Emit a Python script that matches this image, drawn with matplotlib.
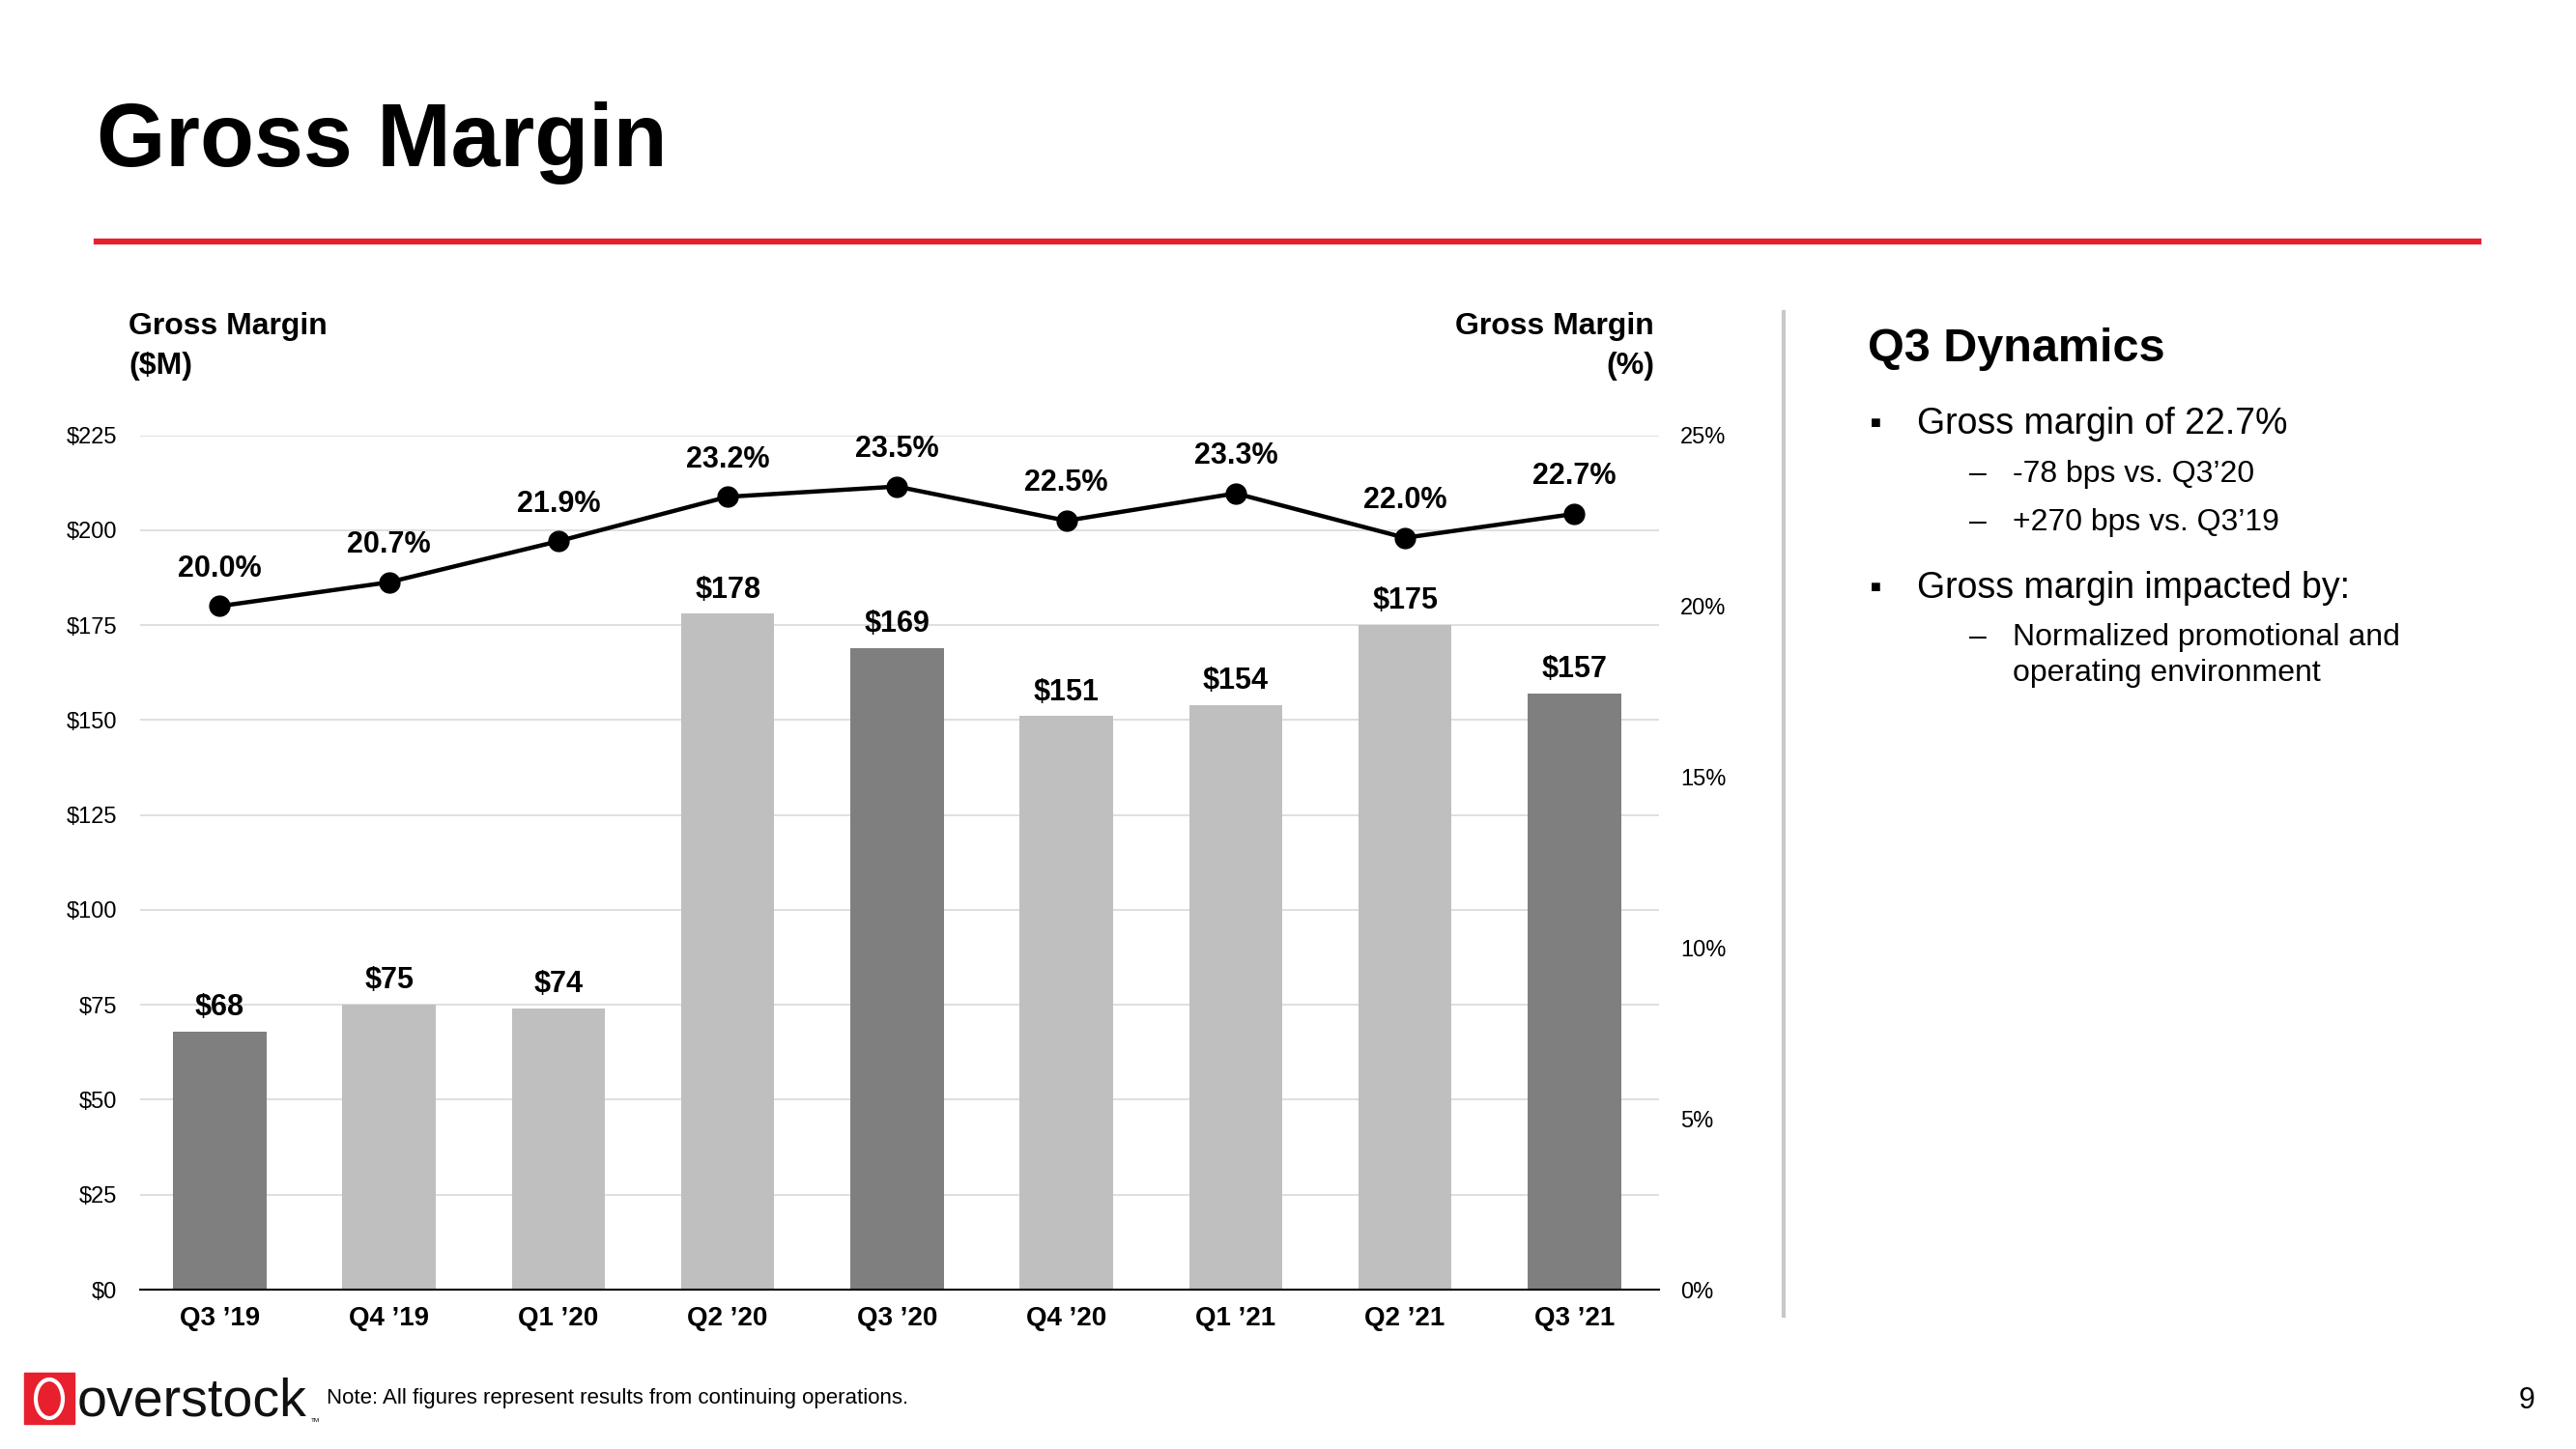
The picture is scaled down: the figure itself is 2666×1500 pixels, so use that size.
import numpy as np
import matplotlib
matplotlib.use('Agg')
import matplotlib.pyplot as plt
from matplotlib.patches import Rectangle, Ellipse

# Data
quarters = ['Q3 \u201919', 'Q4 \u201919', 'Q1 \u201920', 'Q2 \u201920', 'Q3 \u201920',
            'Q4 \u201920', 'Q1 \u201921', 'Q2 \u201921', 'Q3 \u201921']
gross_margin_m = [68, 75, 74, 178, 169, 151, 154, 175, 157]
gross_margin_pct = [20.0, 20.7, 21.9, 23.2, 23.5, 22.5, 23.3, 22.0, 22.7]
is_q3 = [True, False, False, False, True, False, False, False, True]
left_ticks = [0, 25, 50, 75, 100, 125, 150, 175, 200, 225]
right_ticks = [0, 5, 10, 15, 20, 25]

REG = ['Liberation Sans', 'DejaVu Sans']
plt.rcParams['font.family'] = REG

W, H = 2666, 1500
fig = plt.figure(figsize=(W / 100, H / 100), dpi=100)

def fx(px):
    return px / W

def fy(py):
    return 1 - py / H

# Title and red rule
fig.text(fx(100), fy(148), 'Gross Margin', fontsize=66, fontweight='bold',
         va='center', ha='left')
fig.add_artist(plt.Line2D([fx(100), fx(2565)], [fy(250), fy(250)],
                          color='#E8202E', lw=4.5))

# Main chart
ax = fig.add_axes([fx(145), fy(1335), fx(1717 - 145), (1335 - 450.6) / H])
x = np.arange(len(quarters))
colors = ['#7F7F7F' if q else '#BFBFBF' for q in is_q3]
ax.bar(x, gross_margin_m, width=0.55, color=colors, zorder=2)
ax.set_xlim(-0.47, 8.5)
ax.set_ylim(0, 225)
ax.set_yticks(left_ticks)
ax.set_yticklabels([f'${v}' for v in left_ticks], fontsize=17)
ax.tick_params(axis='y', length=0, pad=17)
ax.set_xticks(x)
ax.set_xticklabels(quarters, fontsize=20, fontweight='bold')
ax.tick_params(axis='x', length=0, pad=12)
ax.grid(axis='y', color='#D9D9D9', lw=1.2, zorder=0)
ax.set_axisbelow(True)
for s in ['top', 'right', 'left']:
    ax.spines[s].set_visible(False)
ax.spines['bottom'].set_color('#000000')
ax.spines['bottom'].set_linewidth(1.5)
ax.spines['bottom'].set_zorder(3)

for xi, v in zip(x, gross_margin_m):
    ax.annotate(f'${v}', (xi, v), xytext=(0, 7), textcoords='offset points',
                ha='center', va='bottom', fontsize=22, fontweight='bold')

ax2 = ax.twinx()
ax2.set_ylim(0, 25)
ax2.set_yticks(right_ticks)
ax2.set_yticklabels([f'{v}%' for v in right_ticks], fontsize=17)
ax2.tick_params(axis='y', length=0, pad=16)
for s in ax2.spines.values():
    s.set_visible(False)
ax2.plot(x, gross_margin_pct, color='black', lw=3.2, marker='o', markersize=15,
         zorder=5)
for xi, v in zip(x, gross_margin_pct):
    ax2.annotate(f'{v:.1f}%', (xi, v), xytext=(0, 17), textcoords='offset points',
                 ha='center', va='bottom', fontsize=22, fontweight='bold')

# Axis titles
fig.text(fx(133), fy(338), 'Gross Margin', fontsize=23, fontweight='bold',
         ha='left', va='center')
fig.text(fx(133), fy(379), '($M)', fontsize=23, fontweight='bold',
         ha='left', va='center')
fig.text(fx(1712), fy(338), 'Gross Margin', fontsize=23, fontweight='bold',
         ha='right', va='center')
fig.text(fx(1712), fy(379), '(%)', fontsize=23, fontweight='bold',
         ha='right', va='center')

# Separator
fig.add_artist(plt.Line2D([fx(1846), fx(1846)], [fy(323), fy(1362)],
                          color='#C8C8C8', lw=3))

# Right panel
fig.text(fx(1933), fy(362), 'Q3 Dynamics', fontsize=35, fontweight='bold',
         ha='left', va='center')
fig.text(fx(1936), fy(439), '\u25a0', fontsize=13, ha='left', va='center')
fig.text(fx(1984), fy(439), 'Gross margin of 22.7%', fontsize=27,
         ha='left', va='center')
fig.text(fx(2038), fy(491), '\u2013', fontsize=23, ha='left', va='center')
fig.text(fx(2083), fy(491), '-78 bps vs. Q3\u201920', fontsize=23,
         ha='left', va='center')
fig.text(fx(2038), fy(541), '\u2013', fontsize=23, ha='left', va='center')
fig.text(fx(2083), fy(541), '+270 bps vs. Q3\u201919', fontsize=23,
         ha='left', va='center')
fig.text(fx(1936), fy(609), '\u25a0', fontsize=13, ha='left', va='center')
fig.text(fx(1984), fy(609), 'Gross margin impacted by:', fontsize=27,
         ha='left', va='center')
fig.text(fx(2038), fy(660), '\u2013', fontsize=23, ha='left', va='center')
fig.text(fx(2083), fy(660), 'Normalized promotional and', fontsize=23,
         ha='left', va='center')
fig.text(fx(2083), fy(697), 'operating environment', fontsize=23,
         ha='left', va='center')

# Footer: logo, note, page number
fig.add_artist(Rectangle((fx(25), fy(1474)), fx(52), 53 / H, color='#E8202E',
                         transform=fig.transFigure))
fig.add_artist(Ellipse((fx(51), fy(1448)), fx(28), 40 / H, fill=False,
                       edgecolor='white', lw=3, transform=fig.transFigure))
fig.text(fx(80), fy(1466), 'overstock', fontsize=40, ha='left', va='baseline',
         color='#111111', fontweight='light')
fig.text(fx(322), fy(1472), 'TM', fontsize=4.5, ha='left', va='baseline')
fig.text(fx(338), fy(1447), 'Note: All figures represent results from continuing operations.',
         fontsize=16, ha='left', va='center')
fig.text(fx(2615), fy(1450), '9', fontsize=22, ha='center', va='center')

fig.savefig('out.png', dpi=100)
